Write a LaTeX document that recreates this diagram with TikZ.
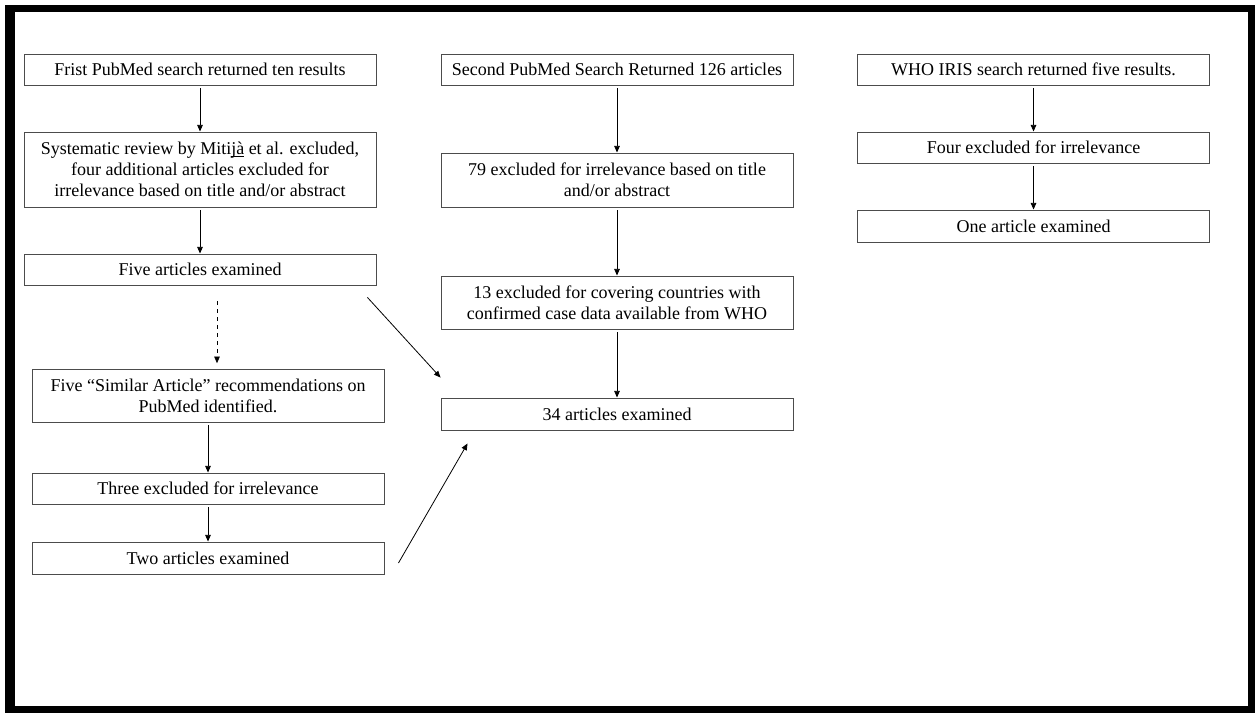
\documentclass[tikz,border=0pt]{standalone}
\usepackage{fontspec}
\setmainfont{Liberation Serif}
\usetikzlibrary{arrows.meta,calc}

\begin{document}
\begin{tikzpicture}[x=0.75pt,y=-0.75pt,
    box/.style={draw=black!70, line width=0.7pt, minimum width=264pt,
      minimum height=23.25pt, inner sep=0pt, align=center,
      font=\fontsize{13.5}{15.75}\selectfont},
    arr/.style={line width=0.6pt, shorten <=2pt, -{Triangle[length=5pt,width=4.2pt]}}]
        % draw frame
        \useasboundingbox (0,0) rectangle (1255,713);
        \fill (5,5) rectangle (1255,713);
        \fill[white] (15,12) rectangle (1248,706);

        % draw first PubMed column
        \node[box] (pm1) at (200,69.5) {Frist PubMed search returned ten results};
        \node[box, minimum height=56.25pt] (pm2) at (200,169.5)
          {Systematic review by Miti\underline{\smash{jà}} et al. excluded,\\
           four additional articles excluded for\\
           irrelevance based on title and/or abstract};
        \node[box] (pm3) at (200,269.5) {Five articles examined};
        \node[box, minimum height=39.75pt] (sim1) at (208,395.5)
          {Five “Similar Article” recommendations on\\ PubMed identified.};
        \node[box] (sim2) at (208,488.5) {Three excluded for irrelevance};
        \node[box, minimum height=24pt] (sim3) at (208,558) {Two articles examined};

        % draw second PubMed column
        \node[box] (sec1) at (617,69.5) {Second PubMed Search Returned 126 articles};
        \node[box, minimum height=40.5pt] (sec2) at (617,180)
          {79 excluded for irrelevance based on title\\ and/or abstract};
        \node[box, minimum height=39.75pt] (sec3) at (617,302.5)
          {13 excluded for covering countries with\\ confirmed case data available from WHO};
        \node[box, minimum height=24pt] (sec4) at (617,414) {34 articles examined};

        % draw WHO IRIS column
        \node[box] (who1) at (1033.5,69.5) {WHO IRIS search returned five results.};
        \node[box] (who2) at (1033.5,147.5) {Four excluded for irrelevance};
        \node[box, minimum height=24pt] (who3) at (1033.5,226) {One article examined};

        % draw arrows
        \foreach \a/\b in {pm1/pm2,pm2/pm3,sim1/sim2,sim2/sim3,
                           sec1/sec2,sec2/sec3,sec3/sec4,who1/who2,who2/who3}
          \draw[arr] (\a) -- (\b);
        \draw[arr, dashed, shorten <=12pt, shorten >=4pt]
          ([xshift=12.75pt]pm3.south) -- ([xshift=6.75pt]sim1.north);
        \draw[arr, shorten <=0pt] ($(pm3.south east)+(-9,12)$) -- ($(sec4.north west)+(0,-20)$);
        \draw[arr, shorten <=0pt] ($(sim3.east)+(14,5)$) -- ($(sec4.south west)+(27,13)$);
\end{tikzpicture}
\end{document}
